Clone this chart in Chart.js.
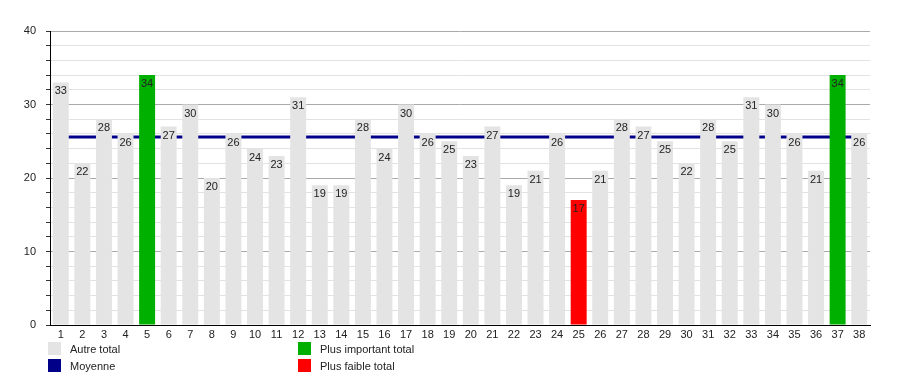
<!DOCTYPE html>
<html lang="fr">
<head>
  <meta charset="UTF-8">
  <title>Totaux</title>
  <style>
    body { margin: 0; background: #fff; }
    #zone { position: relative; width: 900px; height: 375px; }
    .leg { position: absolute; font: 11px "Liberation Sans", Arial, sans-serif; color: #222; display: flex; align-items: center; height: 13px; }
    .leg span.carre { width: 13px; height: 13px; margin-right: 9px; display: inline-block; }
  </style>
  <script src="https://cdn.jsdelivr.net/npm/chart.js"></script>
</head>
<body>
<div id="zone">
  <canvas id="graphique" width="900" height="375"></canvas>
  <div class="leg" style="left:48px; top:342px;"><span class="carre" style="background:#e4e4e4"></span>Autre total</div>
  <div class="leg" style="left:48px; top:359px;"><span class="carre" style="background:#000088"></span>Moyenne</div>
  <div class="leg" style="left:298px; top:342px;"><span class="carre" style="background:#00b000"></span>Plus important total</div>
  <div class="leg" style="left:298px; top:359px;"><span class="carre" style="background:#ff0000"></span>Plus faible total</div>
</div>
<script>
  const categories = Array.from({ length: 38 }, (_, i) => String(i + 1));
  const totaux = [33, 22, 28, 26, 34, 27, 30, 20, 26, 24, 23, 31, 19, 19, 28, 24, 30, 26, 25, 23,
                  27, 19, 21, 26, 17, 21, 28, 27, 25, 22, 28, 25, 31, 30, 26, 21, 34, 26];
  const moyenne = 25.58;
  const etiquettesY = [0, 10, 20, 30, 40];

  const maxi = Math.max(...totaux);
  const mini = Math.min(...totaux);
  const couleurs = totaux.map(v => v === maxi ? '#00b000' : (v === mini ? '#ff0000' : '#e4e4e4'));

  // valeurs écrites en haut de chaque barre
  const etiquettes = {
    id: 'etiquettes',
    afterDatasetsDraw(chart) {
      const c = chart.ctx;
      const meta = chart.getDatasetMeta(0);
      c.save();
      c.font = '11px "Liberation Sans", Arial, sans-serif';
      c.fillStyle = '#222';
      c.textAlign = 'center';
      c.textBaseline = 'middle';
      meta.data.forEach((bar, i) => {
        c.fillText(totaux[i], bar.x, bar.y + 9);
      });
      c.restore();
    }
  };

  const ctx = document.getElementById('graphique').getContext('2d');
  new Chart(ctx, {
    data: {
      labels: categories,
      datasets: [{
        type: 'bar',
        label: 'Totaux',
        data: totaux,
        backgroundColor: couleurs,
        barPercentage: 0.74,
        categoryPercentage: 1,
        order: 1
      }, {
        type: 'line',
        label: 'Moyenne',
        data: categories.map(() => moyenne),
        borderColor: '#000088',
        borderWidth: 3,
        pointRadius: 0,
        order: 2
      }]
    },
    options: {
      responsive: false,
      animation: false,
      layout: { padding: { left: 0, right: 30, top: 31, bottom: 36 } },
      plugins: { legend: { display: false }, tooltip: { enabled: false } },
      scales: {
        x: {
          grid: { display: false, drawTicks: false },
          border: { color: '#000', width: 1 },
          ticks: {
            color: '#222', padding: 3, maxRotation: 0, autoSkip: false,
            font: { family: '"Liberation Sans", Arial, sans-serif', size: 11 }
          },
          afterFit(s) { s.height = 14; }
        },
        y: {
          min: 0, max: 40,
          border: { color: '#000', width: 1 },
          grid: {
            color: ctx => (ctx.tick && Math.round(ctx.tick.value) % 10 === 0) ? '#aaaaaa' : '#e2e2e2',
            tickColor: '#333',
            tickLength: 4
          },
          ticks: {
            stepSize: 2,
            autoSkip: false,
            color: '#222',
            padding: 10,
            font: { family: '"Liberation Sans", Arial, sans-serif', size: 11 },
            callback: v => etiquettesY.includes(Math.round(v)) ? Math.round(v) : ''
          },
          afterFit(s) { s.width = 50; }
        }
      }
    },
    plugins: [etiquettes]
  });
</script>
</body>
</html>
